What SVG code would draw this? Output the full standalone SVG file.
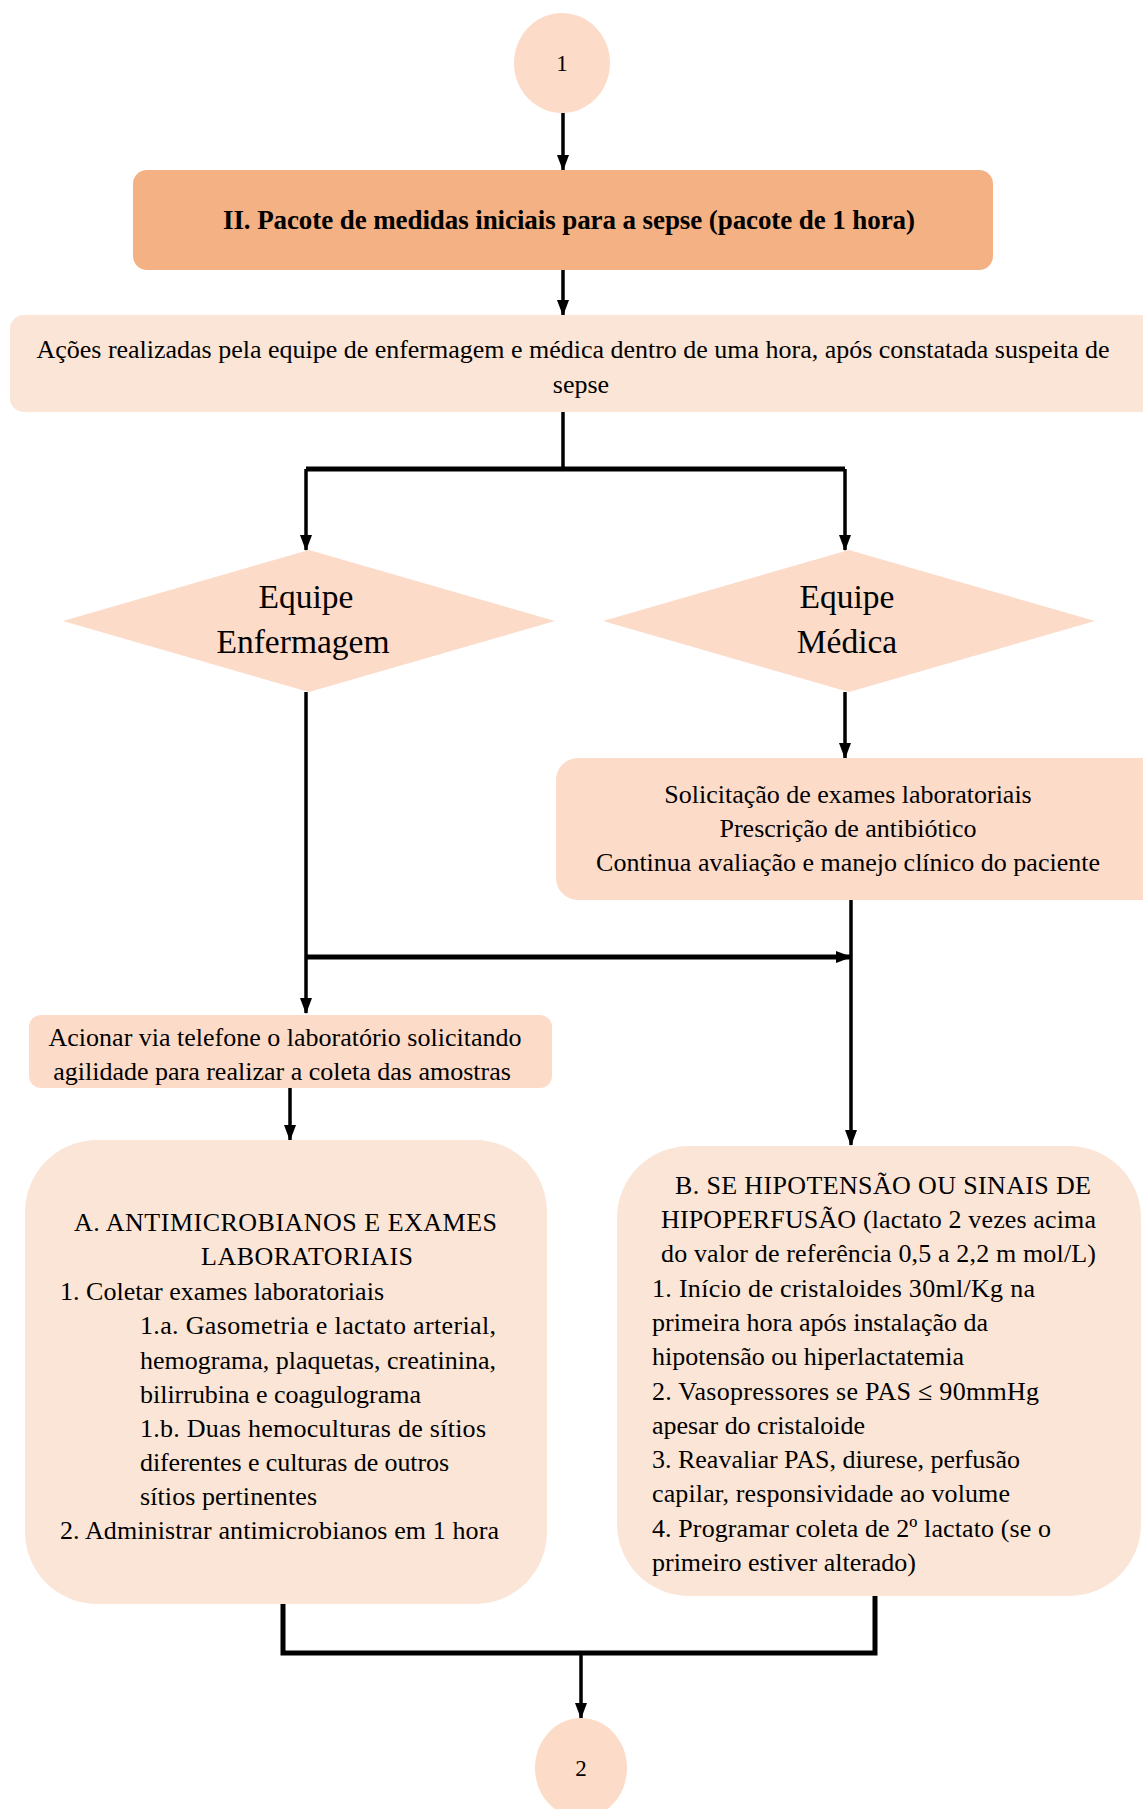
<svg xmlns="http://www.w3.org/2000/svg" width="1143" height="1809" viewBox="0 0 1143 1809">
<style>
text{font-family:"Liberation Serif","Times New Roman",serif;fill:#000}
.c{text-anchor:middle}
.t{font-size:26px}
.con{fill:none;stroke:#000;stroke-width:3.5}
.thick{stroke-width:5}
.light{fill:#FBE5D6}
.peach{fill:#FDDBC9}
</style>
<defs>
<marker id="ah" markerUnits="userSpaceOnUse" markerWidth="16" markerHeight="12" viewBox="0 0 16 12" refX="15" refY="6" orient="auto">
<path d="M0,0 L16,6 L0,12 z" fill="#000"/>
</marker>
</defs>
<rect width="1143" height="1809" fill="#fff"/>
<g id="connectors">
<path class="con" d="M563 113 V170" marker-end="url(#ah)"/>
<path class="con" d="M563 270 V315" marker-end="url(#ah)"/>
<path class="con" d="M563 412 V469"/>
<path class="con thick" d="M306 469 H845"/>
<path class="con" d="M306 469 V550" marker-end="url(#ah)"/>
<path class="con" d="M845 469 V550" marker-end="url(#ah)"/>
<path class="con" d="M306 692 V1013" marker-end="url(#ah)"/>
<path class="con thick" d="M306 957 H851" marker-end="url(#ah)"/>
<path class="con" d="M845 692 V758" marker-end="url(#ah)"/>
<path class="con" d="M851 900 V1145" marker-end="url(#ah)"/>
<path class="con" d="M290 1088 V1140" marker-end="url(#ah)"/>
<path class="con thick" d="M283 1604 V1653 H875 V1596"/>
<path class="con" d="M581 1653 V1718" marker-end="url(#ah)"/>
</g>
<g id="start">
<ellipse class="peach" cx="562" cy="63" rx="48" ry="50"/>
<text class="c" x="562" y="71" font-size="23">1</text>
</g>
<g id="pacote">
<rect x="133" y="170" width="860" height="100" rx="14" fill="#F4B183"/>
<text class="c" x="569" y="229" font-size="27" font-weight="bold" textLength="692">II. Pacote de medidas iniciais para a sepse (pacote de 1 hora)</text>
</g>
<g id="acoes">
<rect class="light" x="10" y="315" width="1145" height="97" rx="14"/>
<text class="c t" x="573" y="358" textLength="1073">Ações realizadas pela equipe de enfermagem e médica dentro de uma hora, após constatada suspeita de</text>
<text class="c t" x="581" y="393">sepse</text>
</g>
<g id="enfermagem">
<polygon class="peach" points="309,550 555,621 309,692 63,621"/>
<text class="c" x="306" y="608" font-size="33.5">Equipe</text>
<text class="c" x="303" y="653" font-size="33.5">Enfermagem</text>
</g>
<g id="medica">
<polygon class="peach" points="849,550 1095,621 849,692 603,621"/>
<text class="c" x="847" y="608" font-size="33.5">Equipe</text>
<text class="c" x="847" y="653" font-size="33.5">Médica</text>
</g>
<g id="solicitacao">
<rect class="peach" x="556" y="758" width="610" height="142" rx="22"/>
<text class="c t" x="848" y="803">Solicitação de exames laboratoriais</text>
<text class="c t" x="848" y="837">Prescrição de antibiótico</text>
<text class="c t" x="848" y="871">Continua avaliação e manejo clínico do paciente</text>
</g>
<g id="acionar">
<rect class="peach" x="29" y="1015" width="523" height="73" rx="12"/>
<text class="c t" x="285" y="1046">Acionar via telefone o laboratório solicitando</text>
<text class="c t" x="282" y="1080">agilidade para realizar a coleta das amostras</text>
</g>
<g id="boxA">
<rect class="light" x="25" y="1140" width="522" height="464" rx="72"/>
<text class="t" x="74" y="1231" textLength="423">A.  ANTIMICROBIANOS E EXAMES</text>
<text class="t" x="201" y="1265" textLength="212">LABORATORIAIS</text>
<text class="t" x="60" y="1300" textLength="324">1. Coletar exames  laboratoriais</text>
<text class="t" x="140" y="1334" textLength="356">1.a. Gasometria e lactato arterial,</text>
<text class="t" x="140" y="1369" textLength="356">hemograma, plaquetas, creatinina,</text>
<text class="t" x="140" y="1403" textLength="281">bilirrubina e coagulograma</text>
<text class="t" x="140" y="1437" textLength="346">1.b. Duas hemoculturas de sítios</text>
<text class="t" x="140" y="1471" textLength="309">diferentes e culturas de outros</text>
<text class="t" x="140" y="1505" textLength="177">sítios pertinentes</text>
<text class="t" x="60" y="1539" textLength="439">2. Administrar antimicrobianos em 1 hora</text>
</g>
<g id="boxB">
<rect class="light" x="617" y="1146" width="524" height="450" rx="72"/>
<text class="t" x="675" y="1194" textLength="416">B. SE HIPOTENSÃO OU SINAIS DE</text>
<text class="t" x="661" y="1228" textLength="435">HIPOPERFUSÃO (lactato 2 vezes acima</text>
<text class="t" x="661" y="1262" textLength="435">do valor de referência 0,5 a 2,2 m mol/L)</text>
<text class="t" x="652" y="1297" textLength="383">1. Início de cristaloides 30ml/Kg na</text>
<text class="t" x="652" y="1331" textLength="336">primeira hora após instalação da</text>
<text class="t" x="652" y="1365" textLength="312">hipotensão ou hiperlactatemia</text>
<text class="t" x="652" y="1400" textLength="387">2. Vasopressores se PAS ≤ 90mmHg</text>
<text class="t" x="652" y="1434" textLength="213">apesar do cristaloide</text>
<text class="t" x="652" y="1468" textLength="368">3. Reavaliar PAS, diurese, perfusão</text>
<text class="t" x="652" y="1502" textLength="358">capilar, responsividade ao volume</text>
<text class="t" x="652" y="1537" textLength="399">4. Programar coleta de 2º lactato (se o</text>
<text class="t" x="652" y="1571" textLength="264">primeiro estiver alterado)</text>
</g>
<g id="end">
<ellipse class="peach" cx="581" cy="1768" rx="46" ry="50"/>
<text class="c" x="581" y="1776" font-size="23">2</text>
</g>
</svg>
